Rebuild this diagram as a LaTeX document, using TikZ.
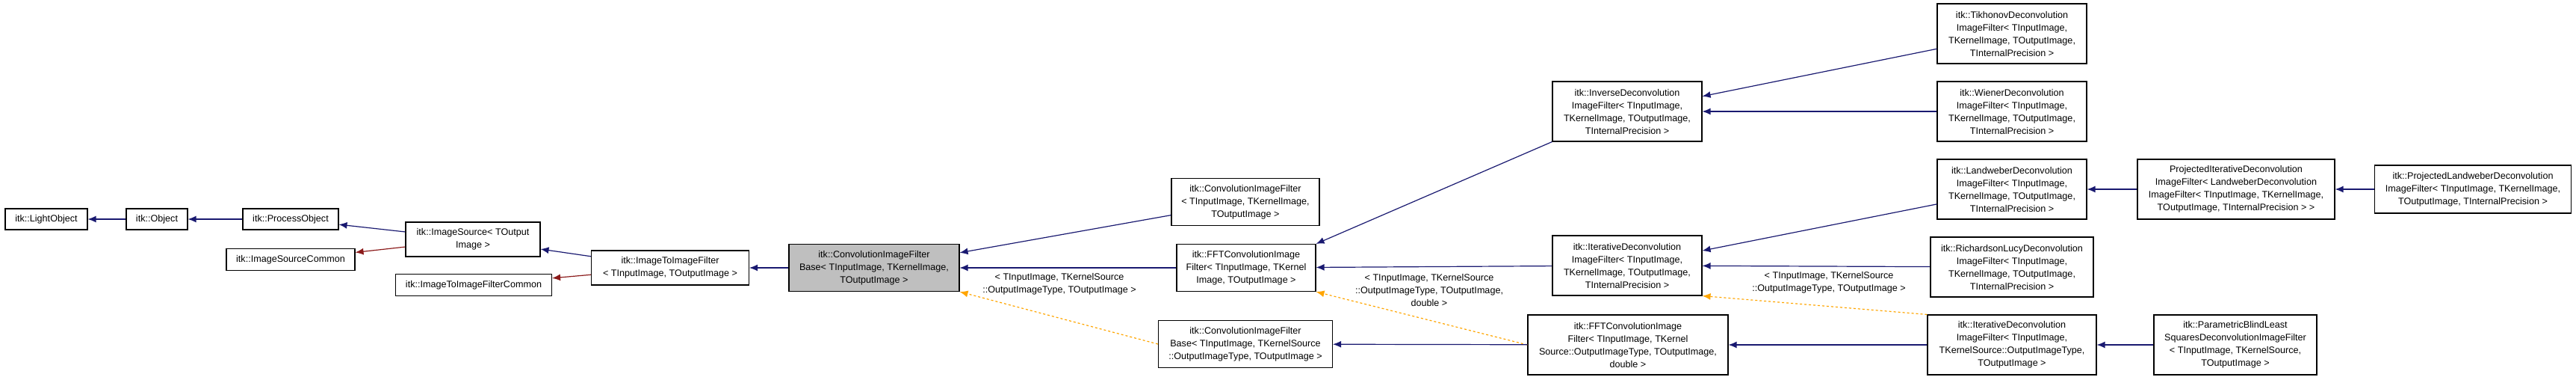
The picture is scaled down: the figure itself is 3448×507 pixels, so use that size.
\documentclass[tikz,border=0pt]{standalone}
\usepackage{fontspec}
\setmainfont{Liberation Sans}
\usetikzlibrary{arrows.meta}
\definecolor{edgeblue}{HTML}{191970}
\definecolor{edgered}{HTML}{8B1A1A}
\definecolor{edgeorange}{HTML}{FFA500}
\tikzset{
  cls/.style={draw=black,line width=1.1pt,fill=white,align=center,inner sep=2pt,
    font=\fontsize{12.6}{17}\selectfont},
  inh/.style={edgeblue,line width=1.2pt,-{Latex[length=11pt,width=9pt]}},
  uses/.style={edgered,line width=1.2pt,-{Latex[length=11pt,width=9pt]}},
  tmpl/.style={edgeorange,line width=1.2pt,dashed,-{Latex[length=11pt,width=9pt]}},
  lbl/.style={align=center,font=\fontsize{12.6}{17}\selectfont}
}
\begin{document}
\begin{tikzpicture}[x=1pt,y=-1pt]
    \useasboundingbox (0,0) rectangle (3448,507);
    % left chain
    \node[cls,minimum width=110,minimum height=28] (light) at (62,293) {itk::LightObject};
    \node[cls,minimum width=82,minimum height=28] (obj) at (210,293) {itk::Object};
    \node[cls,minimum width=128,minimum height=28] (proc) at (389,293) {itk::ProcessObject};
    \node[cls,minimum width=172,minimum height=29] (srccommon) at (389,347) {itk::ImageSourceCommon};
    \node[cls,minimum width=180,minimum height=46] (src) at (633,320) {itk::ImageSource\textless{} TOutput\\Image \textgreater};
    \node[cls,minimum width=209,minimum height=29] (i2icommon) at (634,381) {itk::ImageToImageFilterCommon};
    \node[cls,minimum width=211,minimum height=46] (i2i) at (897,358) {itk::ImageToImageFilter\\\textless{} TInputImage, TOutputImage \textgreater};
    \node[cls,fill=black!25,minimum width=228,minimum height=63] (convbase) at (1170,358) {itk::ConvolutionImageFilter\\Base\textless{} TInputImage, TKernelImage,\\TOutputImage \textgreater};
    % middle
    \node[cls,minimum width=198,minimum height=63] (conv) at (1667,270) {itk::ConvolutionImageFilter\\\textless{} TInputImage, TKernelImage,\\TOutputImage \textgreater};
    \node[cls,minimum width=186,minimum height=63] (fft) at (1668,358) {itk::FFTConvolutionImage\\Filter\textless{} TInputImage, TKernel\\Image, TOutputImage \textgreater};
    \node[cls,minimum width=233,minimum height=63] (convbaseks) at (1667,460) {itk::ConvolutionImageFilter\\Base\textless{} TInputImage, TKernelSource\\::OutputImageType, TOutputImage \textgreater};
    \node[cls,minimum width=200,minimum height=80] (inverse) at (2178,149) {itk::InverseDeconvolution\\ImageFilter\textless{} TInputImage,\\TKernelImage, TOutputImage,\\TInternalPrecision \textgreater};
    \node[cls,minimum width=200,minimum height=80] (iter) at (2178,355) {itk::IterativeDeconvolution\\ImageFilter\textless{} TInputImage,\\TKernelImage, TOutputImage,\\TInternalPrecision \textgreater};
    \node[cls,minimum width=268,minimum height=80] (fftks) at (2179,461) {itk::FFTConvolutionImage\\Filter\textless{} TInputImage, TKernel\\Source::OutputImageType, TOutputImage,\\double \textgreater};
    % right
    \node[cls,minimum width=200,minimum height=80] (tikhonov) at (2693,45) {itk::TikhonovDeconvolution\\ImageFilter\textless{} TInputImage,\\TKernelImage, TOutputImage,\\TInternalPrecision \textgreater};
    \node[cls,minimum width=200,minimum height=80] (wiener) at (2693,149) {itk::WienerDeconvolution\\ImageFilter\textless{} TInputImage,\\TKernelImage, TOutputImage,\\TInternalPrecision \textgreater};
    \node[cls,minimum width=200,minimum height=80] (landweber) at (2693,253) {itk::LandweberDeconvolution\\ImageFilter\textless{} TInputImage,\\TKernelImage, TOutputImage,\\TInternalPrecision \textgreater};
    \node[cls,minimum width=218,minimum height=80] (richlucy) at (2693,357) {itk::RichardsonLucyDeconvolution\\ImageFilter\textless{} TInputImage,\\TKernelImage, TOutputImage,\\TInternalPrecision \textgreater};
    \node[cls,minimum width=226,minimum height=80] (iterks) at (2693,461) {itk::IterativeDeconvolution\\ImageFilter\textless{} TInputImage,\\TKernelSource::OutputImageType,\\TOutputImage \textgreater};
    \node[cls,minimum width=264,minimum height=80] (projiter) at (2993,253) {ProjectedIterativeDeconvolution\\ImageFilter\textless{} LandweberDeconvolution\\ImageFilter\textless{} TInputImage, TKernelImage,\\TOutputImage, TInternalPrecision \textgreater{} \textgreater};
    \node[cls,minimum width=263,minimum height=64] (projland) at (3310,253) {itk::ProjectedLandweberDeconvolution\\ImageFilter\textless{} TInputImage, TKernelImage,\\TOutputImage, TInternalPrecision \textgreater};
    \node[cls,minimum width=218,minimum height=80] (blind) at (2992,461) {itk::ParametricBlindLeast\\SquaresDeconvolutionImageFilter\\\textless{} TInputImage, TKernelSource,\\TOutputImage \textgreater};
    % edges
    \draw[inh] (obj) -- (light);
    \draw[inh] (proc) -- (obj);
    \draw[inh] (src) -- (proc);
    \draw[uses] (src) -- (srccommon);
    \draw[inh] (i2i) -- (src);
    \draw[uses] (i2i) -- (i2icommon);
    \draw[inh] (convbase) -- (i2i);
    \draw[inh] (conv) -- (convbase);
    \draw[inh] (fft) -- (convbase);
    \draw[tmpl] (convbaseks.west) -- (convbase.south east);
    \draw[inh] (inverse.south west) -- (fft.north east);
    \draw[inh] (iter) -- (fft);
    \draw[tmpl] (fftks.west) -- (fft.south east);
    \draw[inh] (fftks) -- (convbaseks);
    \draw[inh] (tikhonov) -- (inverse);
    \draw[inh] (wiener) -- (inverse);
    \draw[inh] (landweber) -- (iter);
    \draw[inh] (richlucy) -- (iter);
    \draw[tmpl] (iterks.north west) -- (iter.south east);
    \draw[inh] (iterks) -- (fftks);
    \draw[inh] (projiter) -- (landweber);
    \draw[inh] (projland) -- (projiter);
    \draw[inh] (blind) -- (iterks);
    % template labels
    \node[lbl] (lblbase) at (1418,380) {\textless{} TInputImage, TKernelSource\\::OutputImageType, TOutputImage \textgreater};
    \node[lbl] (lblfft) at (1913,388) {\textless{} TInputImage, TKernelSource\\::OutputImageType, TOutputImage,\\double \textgreater};
    \node[lbl] (lbliter) at (2448,378) {\textless{} TInputImage, TKernelSource\\::OutputImageType, TOutputImage \textgreater};
\end{tikzpicture}
\end{document}
